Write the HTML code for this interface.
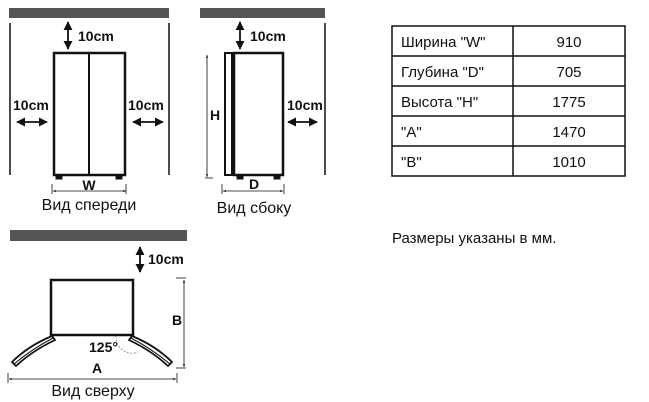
<!DOCTYPE html>
<html><head><meta charset="utf-8"><style>
body{margin:0;width:649px;height:402px;background:#fff;overflow:hidden}
svg{display:block}
.b{font-family:"Liberation Sans",sans-serif;font-weight:bold;font-size:14px;fill:#111}
.r{font-family:"Liberation Sans","Noto Sans CJK SC",sans-serif;font-size:16px;fill:#111}
.t{font-family:"Liberation Sans","Noto Sans CJK SC",sans-serif;font-size:15px;fill:#111}
</style></head><body>
<svg width="649" height="402" viewBox="0 0 649 402">
<defs>
<marker id="a" viewBox="0 0 10 10" refX="9" refY="5" markerWidth="5" markerHeight="5" orient="auto-start-reverse"><path d="M0,0L10,5L0,10z" fill="#111"/></marker>
<marker id="s" viewBox="0 0 10 10" refX="9" refY="5" markerWidth="4" markerHeight="4" orient="auto-start-reverse"><path d="M0,1L10,5L0,9z" fill="#333"/></marker>
</defs>
<g stroke="#111" fill="none">
<rect x="9" y="8" width="160" height="10" fill="#555" stroke="none"/>
<line x1="10" y1="23" x2="10" y2="175" stroke-width="1.5"/>
<line x1="169" y1="23" x2="169" y2="175" stroke-width="1.5"/>
<rect x="54" y="53" width="71" height="122" stroke-width="2.5"/>
<line x1="89" y1="53" x2="89" y2="175" stroke-width="2"/>
<rect x="56" y="175" width="6" height="4" fill="#111"/><rect x="116" y="175" width="6" height="4" fill="#111"/>
<line x1="68" y1="22" x2="68" y2="49" stroke-width="1.8" marker-start="url(#a)" marker-end="url(#a)"/>
<line x1="17" y1="122" x2="47" y2="122" stroke-width="1.8" marker-start="url(#a)" marker-end="url(#a)"/>
<line x1="133" y1="122" x2="163" y2="122" stroke-width="1.8" marker-start="url(#a)" marker-end="url(#a)"/>
<line x1="53" y1="191" x2="126" y2="191" stroke-width="0.8" marker-start="url(#s)" marker-end="url(#s)"/>
<line x1="52" y1="184" x2="52" y2="194" stroke-width="0.8"/><line x1="126" y1="184" x2="126" y2="194" stroke-width="0.8"/>
<rect x="200" y="8" width="125" height="10" fill="#555" stroke="none"/>
<line x1="325" y1="23" x2="325" y2="175" stroke-width="1.5"/>
<rect x="225" y="53" width="7" height="122" stroke-width="2"/>
<rect x="234" y="53" width="49" height="122" stroke-width="2.5"/>
<rect x="237" y="175" width="6" height="4" fill="#111"/><rect x="274" y="175" width="6" height="4" fill="#111"/>
<line x1="207" y1="55" x2="207" y2="177" stroke-width="0.8" marker-start="url(#s)" marker-end="url(#s)"/>
<line x1="205" y1="178" x2="213" y2="178" stroke-width="0.8"/>
<line x1="240" y1="22" x2="240" y2="49" stroke-width="1.8" marker-start="url(#a)" marker-end="url(#a)"/>
<line x1="288" y1="122" x2="317" y2="122" stroke-width="1.8" marker-start="url(#a)" marker-end="url(#a)"/>
<line x1="223" y1="191" x2="283" y2="191" stroke-width="0.8" marker-start="url(#s)" marker-end="url(#s)"/>
<line x1="222" y1="184" x2="222" y2="194" stroke-width="0.8"/><line x1="284" y1="184" x2="284" y2="194" stroke-width="0.8"/>
<rect x="10" y="230" width="177" height="11" fill="#555" stroke="none"/>
<line x1="140" y1="247" x2="140" y2="272" stroke-width="1.8" marker-start="url(#a)" marker-end="url(#a)"/>
<rect x="51" y="280" width="82" height="55" stroke-width="2.5"/>
<path d="M52,336 Q28,346 12,362 L16,366 Q32,351 55,340z" stroke-width="1.8" fill="#fff"/>
<path d="M53,338 Q32,349 14,364" stroke-width="1"/>
<path d="M132,336 Q156,346 172,362 L168,366 Q152,351 129,340z" stroke-width="1.8" fill="#fff"/>
<path d="M131,338 Q152,349 170,364" stroke-width="1"/>
<path d="M116,336 A16,16 0 0 0 138,352" stroke="#777" stroke-width="0.7" stroke-dasharray="2,1.5"/>
<line x1="184" y1="280" x2="184" y2="367" stroke-width="0.8" marker-start="url(#s)" marker-end="url(#s)"/>
<line x1="176" y1="278" x2="186" y2="278" stroke-width="0.8"/><line x1="176" y1="368" x2="186" y2="368" stroke-width="0.8"/>
<line x1="9" y1="379" x2="176" y2="379" stroke-width="0.8" marker-start="url(#s)" marker-end="url(#s)"/>
<line x1="8" y1="373" x2="8" y2="383" stroke-width="0.8"/><line x1="177" y1="373" x2="177" y2="383" stroke-width="0.8"/>
<rect x="392" y="26" width="233" height="150" stroke-width="1.5"/>
<line x1="513" y1="26" x2="513" y2="176" stroke-width="1.5"/>
<line x1="392" y1="56" x2="625" y2="56" stroke-width="1.5"/>
<line x1="392" y1="86" x2="625" y2="86" stroke-width="1.5"/>
<line x1="392" y1="116" x2="625" y2="116" stroke-width="1.5"/>
<line x1="392" y1="146" x2="625" y2="146" stroke-width="1.5"/>
</g>
<text class="b" x="78" y="41">10cm</text>
<text class="b" x="13" y="110">10cm</text>
<text class="b" x="128" y="110">10cm</text>
<text class="b" x="89" y="190" text-anchor="middle">W</text>
<text class="r" x="89" y="210" text-anchor="middle">Вид спереди</text>
<text class="b" x="250" y="41">10cm</text>
<text class="b" x="210" y="120">H</text>
<text class="b" x="287" y="110">10cm</text>
<text class="b" x="254" y="189" text-anchor="middle">D</text>
<text class="r" x="254" y="213" text-anchor="middle">Вид сбоку</text>
<text class="b" x="148" y="264">10cm</text>
<text class="b" x="172" y="325">B</text>
<text class="b" x="89" y="352" font-size="11">125°</text>
<text class="b" x="97" y="373" text-anchor="middle">A</text>
<text class="r" x="93" y="396" text-anchor="middle">Вид сверху</text>
<text class="t" x="401" y="47">Ширина "W"</text><text class="t" x="569" y="47" text-anchor="middle">910</text>
<text class="t" x="401" y="77">Глубина "D"</text><text class="t" x="569" y="77" text-anchor="middle">705</text>
<text class="t" x="401" y="107">Высота "H"</text><text class="t" x="569" y="107" text-anchor="middle">1775</text>
<text class="t" x="401" y="137">"A"</text><text class="t" x="569" y="137" text-anchor="middle">1470</text>
<text class="t" x="401" y="167">"B"</text><text class="t" x="569" y="167" text-anchor="middle">1010</text>
<text class="t" x="392" y="243">Размеры указаны в мм.</text>
</svg>
</body></html>
